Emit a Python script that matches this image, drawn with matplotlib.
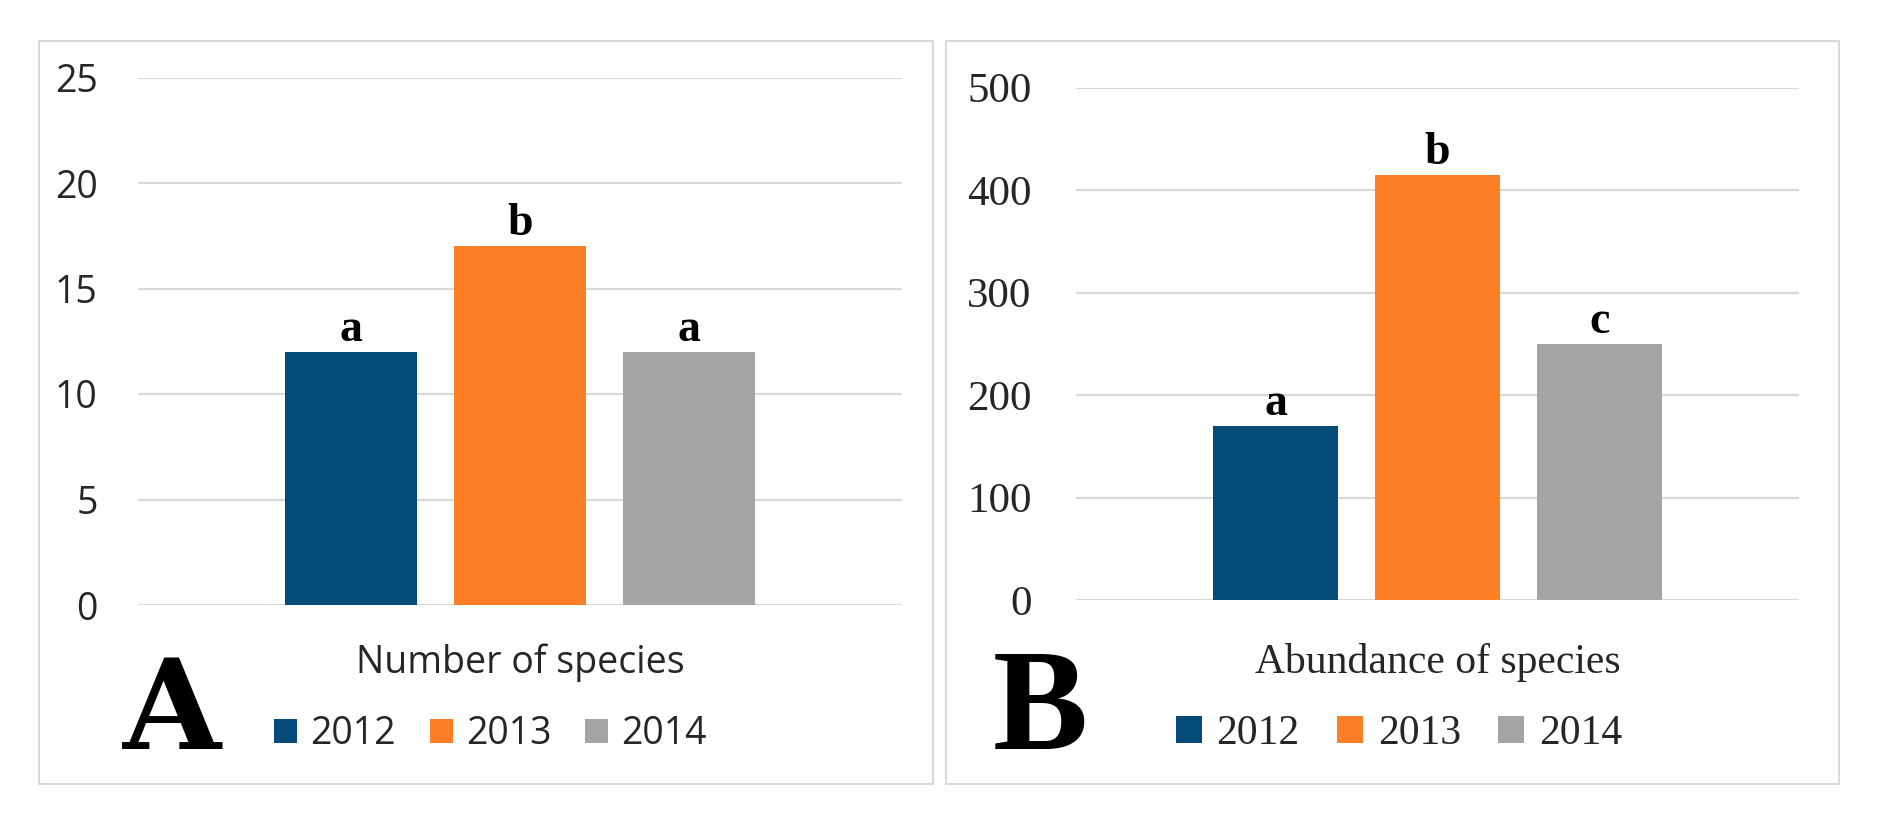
import matplotlib
matplotlib.use('Agg')
import matplotlib.pyplot as plt
from matplotlib.patches import Rectangle, Patch

# ------------------------------------------------------------------------------
# Data
# ------------------------------------------------------------------------------
years = ['2012', '2013', '2014']
n_species = [12, 17, 12]
abundance = [170, 415, 250]
letters_a = ['a', 'b', 'a']
letters_b = ['a', 'b', 'c']
ticks_a = [0, 5, 10, 15, 20, 25]
ticks_b = [0, 100, 200, 300, 400, 500]

COLORS = ['#044B7A', '#FE7F26', '#A5A5A5']
GRID = '#D9D9D9'
TXT = '#262626'

W, H = 1880, 824
fig = plt.figure(figsize=(W / 100, H / 100), dpi=100)


def fx(px):
    return px / W


def fy(py):
    return 1 - py / H


# panel borders
for x0, x1 in [(39, 933), (946, 1839)]:
    fig.patches.append(Rectangle((fx(x0), fy(784)), fx(x1) - fx(x0), fy(41) - fy(784),
                                 transform=fig.transFigure, fill=False,
                                 edgecolor=GRID, linewidth=1.5))


def panel(rect, values, letters, ticks, ymax, width, margin, tick_font, tick_size, pad,
          xlabel, xlabel_x, label_font, label_size, legend_x, big, big_x, big_font, big_size):
    ax = fig.add_axes(rect)
    x = list(range(len(values)))
    ax.bar(x, values, width=width, color=COLORS, zorder=3)
    ax.set_xlim(-margin, len(values) - 1 + margin)
    ax.set_ylim(0, ymax)
    ax.set_yticks(ticks)
    ax.set_xticks([])
    ax.yaxis.grid(True, color=GRID, linewidth=1.6, zorder=0)
    ax.set_axisbelow(True)
    for s in ax.spines.values():
        s.set_visible(False)
    ax.tick_params(axis='y', length=0, pad=pad)
    for t in ax.get_yticklabels():
        t.set_fontfamily(tick_font)
        t.set_fontsize(tick_size)
        t.set_color(TXT)

    # significance letters above bars
    for xi, v, lt in zip(x, values, letters):
        ax.annotate(lt, (xi, v), xytext=(0, 8), textcoords='offset points',
                    ha='center', va='baseline', fontfamily='Liberation Serif',
                    fontweight='bold', fontsize=33, color='black')

    fig.text(fx(xlabel_x), fy(673), xlabel, ha='center', va='baseline',
             fontfamily=label_font, fontsize=label_size, color=TXT)

    handles = [Patch(facecolor=c, edgecolor='none') for c in COLORS]
    fig.legend(handles, years, loc='center', bbox_to_anchor=(fx(legend_x), fy(734)),
               ncol=3, frameon=False, handlelength=0.62, handleheight=0.62,
               handletextpad=0.35, columnspacing=0.9,
               prop={'family': label_font, 'size': label_size})
    for t in fig.legends[-1].get_texts():
        t.set_color(TXT)

    fig.text(fx(big_x), fy(749), big, ha='center', va='baseline',
             fontfamily=big_font, fontweight='bold', fontsize=big_size, color='black')
    return ax


panel([fx(138), fy(605), fx(902) - fx(138), fy(77.5) - fy(605)],
      n_species, letters_a, ticks_a, 25, 0.78, 1.26, 'Open Sans', 27, 29,
      'Number of species', 520, 'Open Sans', 27, 490.5,
      'A', 172, 'DejaVu Serif', 91)

panel([fx(1076), fy(600), fx(1799) - fx(1076), fy(87.5) - fy(600)],
      abundance, letters_b, ticks_b, 500, 0.77, 1.235, 'Liberation Serif', 31, 32,
      'Abundance of species', 1438, 'Liberation Serif', 30, 1399,
      'B', 1040, 'Liberation Serif', 103)

fig.savefig('out.png', dpi=100)
